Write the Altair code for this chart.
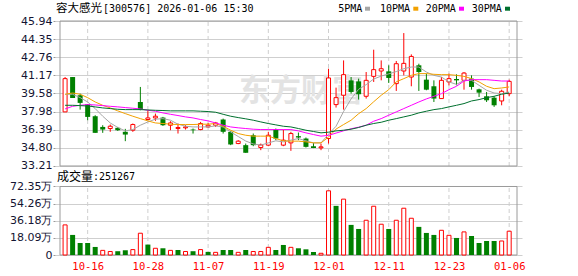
import altair as alt
import pandas as pd

# ---------------- data ----------------
dates = ['10-13', '10-14', '10-15', '10-16', '10-17', '10-20', '10-21', '10-22', '10-23', '10-24',
         '10-27', '10-28', '10-29', '10-30', '10-31', '11-03', '11-04', '11-05', '11-06', '11-07',
         '11-10', '11-11', '11-12', '11-13', '11-14', '11-17', '11-18', '11-19', '11-20', '11-21',
         '11-24', '11-25', '11-26', '11-27', '11-28', '12-01', '12-02', '12-03', '12-04', '12-05',
         '12-08', '12-09', '12-10', '12-11', '12-12', '12-15', '12-16', '12-17', '12-18', '12-19',
         '12-22', '12-23', '12-24', '12-25', '12-26', '12-29', '12-30', '12-31', '01-05', '01-06']
tick_dates = ['10-16', '10-28', '11-07', '11-19', '12-01', '12-11', '12-23', '01-06']

opens = [37.96, 41.02, 39.42, 38.63, 37.58, 36.64, 36.50, 36.56, 36.21, 36.35,
         38.83, 37.29, 37.43, 37.46, 36.79, 36.50, 36.56, 36.41, 36.41, 36.64,
         36.79, 37.29, 36.21, 35.18, 35.04, 35.91, 34.83, 35.04, 36.41, 35.04,
         35.24, 35.83, 35.62, 34.95, 34.80, 35.62, 38.60, 39.42, 40.73, 40.64,
         39.33, 41.08, 41.55, 41.52, 40.44, 41.55, 41.02, 42.05, 40.79, 40.21,
         39.13, 40.59, 40.85, 40.73, 40.88, 39.94, 39.33, 39.21, 38.92, 39.56]
highs = [41.02, 41.02, 39.56, 38.63, 37.67, 36.79, 36.85, 36.64, 36.47, 36.94,
         40.15, 38.10, 37.81, 37.52, 37.14, 36.94, 36.79, 36.50, 37.08, 36.99,
         37.08, 37.37, 36.29, 35.48, 35.18, 36.06, 35.18, 36.21, 36.50, 36.41,
         36.21, 36.15, 35.71, 35.24, 35.18, 41.75, 40.09, 42.48, 41.02, 40.88,
         41.46, 43.42, 42.48, 42.05, 42.43, 44.88, 43.01, 42.19, 41.32, 40.73,
         41.02, 41.32, 41.26, 41.46, 41.17, 40.00, 39.71, 39.33, 39.91, 40.79]
lows = [37.96, 39.18, 38.16, 37.23, 36.12, 36.12, 36.21, 36.29, 35.39, 36.21,
        38.10, 37.23, 37.17, 36.73, 36.35, 36.06, 36.41, 36.06, 36.35, 36.59,
        36.64, 36.06, 35.04, 35.13, 34.37, 34.95, 34.60, 34.95, 35.48, 34.95,
        34.54, 35.48, 34.83, 34.78, 34.60, 35.18, 38.34, 38.16, 39.56, 39.04,
        39.13, 40.59, 40.73, 40.50, 39.80, 41.17, 40.21, 39.80, 39.86, 38.83,
        39.13, 40.29, 40.29, 39.91, 39.91, 39.27, 38.83, 38.40, 38.54, 39.33]
closes = [40.88, 39.18, 38.75, 37.52, 36.12, 36.41, 36.70, 36.35, 35.97, 36.85,
          38.16, 37.43, 37.58, 36.79, 36.99, 36.59, 36.64, 36.35, 36.94, 36.79,
          36.99, 36.21, 35.10, 35.39, 34.37, 35.04, 35.06, 35.91, 35.62, 35.48,
          36.06, 35.71, 34.89, 34.78, 34.89, 40.94, 39.21, 41.23, 39.71, 39.51,
          40.73, 41.67, 41.75, 40.94, 42.19, 42.22, 42.83, 41.46, 39.91, 39.13,
          40.73, 40.88, 40.73, 41.37, 40.15, 39.65, 38.98, 38.54, 39.77, 40.64]

# volume in 万 (10k shares)
volumes = [31.8, 21.2, 12.7, 12.7, 8.5, 4.9, 3.7, 4.0, 5.0, 5.7,
           23.0, 11.0, 7.1, 7.1, 4.9, 5.3, 3.7, 4.0, 5.7, 3.3,
           2.8, 5.3, 5.3, 2.8, 5.3, 3.7, 3.7, 8.1, 5.3, 10.6,
           8.1, 7.1, 6.0, 3.2, 1.8, 67.8, 51.9, 59.0, 31.8, 27.5,
           36.7, 51.5, 32.5, 27.5, 36.7, 49.4, 38.8, 29.7, 23.3, 21.2,
           26.1, 20.8, 18.0, 24.4, 20.1, 12.7, 14.8, 14.8, 14.8, 25.13]
# 1 = red (up day), 0 = green (down day) volume bar
vol_up = [1, 0, 0, 0, 0, 1, 1, 0, 0, 1,
          1, 0, 1, 0, 1, 0, 1, 0, 1, 0,
          1, 0, 0, 1, 0, 1, 1, 1, 0, 0,
          1, 0, 0, 0, 1, 1, 0, 1, 0, 0,
          1, 1, 1, 0, 1, 1, 1, 0, 0, 0,
          1, 1, 0, 1, 0, 0, 0, 0, 1, 1]

ma5 = [39.51, 39.51, 39.21, 38.83, 38.25, 37.58, 36.99, 36.59, 36.29, 36.41,
       36.79, 37.08, 37.32, 37.37, 37.23, 36.88, 36.70, 36.64, 36.64, 36.64,
       36.73, 36.64, 36.20, 35.80, 35.40, 35.15, 35.04, 35.24, 35.42, 35.33,
       35.48, 35.62, 35.42, 35.24, 35.24, 36.00, 36.70, 38.00, 39.10, 39.95,
       40.35, 40.85, 41.10, 41.30, 41.50, 41.75, 41.90, 41.90, 41.46, 41.17,
       41.02, 40.59, 40.38, 40.73, 40.73, 40.29, 39.86, 39.62, 39.56, 39.71]
ma10 = [39.51, 39.62, 39.51, 39.21, 38.83, 38.54, 38.31, 38.05, 37.81, 37.58,
        37.37, 37.17, 36.99, 36.94, 36.88, 36.85, 36.85, 36.85, 36.88, 36.88,
        36.94, 36.70, 36.35, 36.06, 35.91, 35.83, 35.83, 35.83, 35.62, 35.42,
        35.39, 35.39, 35.33, 35.24, 35.24, 35.75, 36.45, 36.85, 37.23, 37.80,
        38.25, 38.85, 39.42, 39.91, 40.60, 40.88, 41.17, 41.32, 41.32, 41.26,
        41.23, 41.23, 41.17, 41.08, 40.88, 40.59, 40.21, 40.00, 40.06, 40.15]
ma20 = [38.22, 38.45, 38.54, 38.60, 38.57, 38.51, 38.45, 38.40, 38.34, 38.28,
        38.22, 38.10, 38.02, 37.87, 37.75, 37.64, 37.52, 37.43, 37.29, 37.17,
        36.99, 36.79, 36.64, 36.56, 36.50, 36.44, 36.41, 36.41, 36.41, 36.41,
        36.41, 36.29, 36.12, 35.97, 35.83, 35.90, 36.10, 36.30, 36.48, 36.62,
        36.79, 37.14, 37.37, 37.67, 37.96, 38.25, 38.54, 38.83, 39.10, 39.33,
        39.56, 39.91, 40.21, 40.67, 40.79, 40.79, 40.79, 40.73, 40.67, 40.67]
ma30 = [38.54, 38.54, 38.51, 38.48, 38.40, 38.31, 38.25, 38.19, 38.16, 38.16,
        38.16, 38.13, 38.10, 38.08, 38.05, 38.05, 38.05, 38.05, 38.02, 37.99,
        37.93, 37.75, 37.58, 37.46, 37.35, 37.23, 37.08, 36.94, 36.82, 36.70,
        36.64, 36.50, 36.35, 36.24, 36.12, 36.18, 36.29, 36.35, 36.44, 36.59,
        36.79, 36.94, 37.05, 37.23, 37.37, 37.52, 37.67, 37.87, 38.02, 38.16,
        38.25, 38.40, 38.54, 38.69, 38.92, 39.04, 39.21, 39.33, 39.51, 39.62]

price_ticks = [33.21, 34.80, 36.39, 37.98, 39.58, 41.17, 42.76, 44.35, 45.94]
vol_ticks = [0, 18.09, 36.18, 54.26, 72.35]
vol_tick_labels = ['0', '18.09万', '36.18万', '54.26万', '72.35万']

title_name = '容大感光'
title_rest = '[300576] 2026-01-06 15:30'
vol_name = '成交量'
vol_rest = ':251267'
watermark = '东方财富'
legend_names = ['5PMA', '10PMA', '20PMA', '30PMA']
legend_colors = ['#a6a6a6', '#f2a100', '#ff00ff', '#00702e']

# ---------------- layout / style ----------------
PLOT_W, PLOT_H = 467, 234
X_DOMAIN = [-0.676, 60.04]
PRICE_DOMAIN = [25.396, 45.94]
VOL_DOMAIN = [0, 247.15]
RED, GREEN = '#ff0000', '#008000'
GRID = '#cfcfcf'
FRAME = '#9a9a9a'
LABEL = '#141432'
MONO = 'DejaVu Sans Mono'
CJK = 'Noto Sans CJK SC'

n = len(dates)
df = pd.DataFrame({
    'i': list(range(n)), 'open': opens, 'high': highs, 'low': lows, 'close': closes,
    'vol': volumes, 'vup': vol_up, 'ma5': ma5, 'ma10': ma10, 'ma20': ma20, 'ma30': ma30,
})
df['up'] = (df['close'] > df['open']).astype(int)

tick_idx = [dates.index(d) for d in tick_dates]
label_expr = '[' + ','.join("'%s'" % d for d in dates) + '][datum.value]'

x_axis = alt.Axis(values=tick_idx, labelExpr=label_expr, grid=False, domain=False, ticks=False,
                  labelColor=RED, labelFont=MONO, labelFontSize=10.5, labelPadding=11,
                  labelBaseline='middle', labelFlush=False, labelOverlap=False, title=None)


def xenc(field='i'):
    return alt.X(f'{field}:Q', scale=alt.Scale(domain=X_DOMAIN, nice=False, zero=False), axis=x_axis)


price_axis = alt.Axis(values=price_ticks, format='.2f', orient='left', grid=True, gridColor=GRID,
                      domain=False, tickSize=2, tickColor=FRAME, labelPadding=1, labelFont='DejaVu Sans',
                      labelFontSize=11, labelColor=LABEL, labelOverlap=False, labelFlush=False, title=None)
vol_expr = ' : '.join("datum.value == %s ? '%s'" % (v, l) for v, l in zip(vol_ticks, vol_tick_labels)) + " : ''"
vol_axis = alt.Axis(values=vol_ticks, labelExpr=vol_expr, orient='left', grid=True, gridColor=GRID,
                    domain=False, tickSize=2, tickColor=FRAME, labelPadding=1, labelFont='DejaVu Sans',
                    labelFontSize=11, labelColor=LABEL, labelOverlap=False, labelFlush=False, title=None)


def py(field):
    return alt.Y(f'{field}:Q', scale=alt.Scale(domain=PRICE_DOMAIN, nice=False, zero=False), axis=price_axis)


def vy(field):
    return alt.Y(f'{field}:Q', scale=alt.Scale(domain=VOL_DOMAIN, nice=False, zero=False), axis=vol_axis)


def text(txt, x, y, font, size, color='#000000', weight='normal'):
    return alt.Chart(pd.DataFrame({'t': [txt]})).mark_text(
        align='left', baseline='middle', font=font, fontSize=size, color=color, fontWeight=weight
    ).encode(text='t:N', x=alt.value(x), y=alt.value(y))


def square(x, y, w, h, color):
    return alt.Chart(pd.DataFrame({'a': [0]})).mark_rect(color=color).encode(
        x=alt.value(x), x2=alt.value(x + w), y=alt.value(y), y2=alt.value(y + h))


base = alt.Chart(df)

# ---- price panel ----
wm = text(watermark, 184, 71, CJK, 31, '#e3e3e3', 'bold')
vgrid_p = alt.Chart(pd.DataFrame({'i': tick_idx, 'lo': price_ticks[0], 'hi': price_ticks[-1]})).mark_rule(
    color=GRID, strokeDash=[4, 3], strokeWidth=1).encode(x=xenc(), y=py('lo'), y2='hi:Q')
frame_p = alt.Chart(pd.DataFrame({'x0': [X_DOMAIN[0]], 'x1': [X_DOMAIN[1]],
                                  'lo': [price_ticks[0]], 'hi': [price_ticks[-1]]})).mark_rect(
    fillOpacity=0, stroke=FRAME, strokeWidth=1).encode(x=xenc('x0'), x2='x1:Q', y=py('lo'), y2='hi:Q')
wick = base.mark_rule(strokeWidth=1).encode(
    x=xenc(), y=py('low'), y2='high:Q',
    color=alt.condition('datum.up == 1', alt.value(RED), alt.value(GREEN)))
body_g = base.transform_filter('datum.up == 0').mark_bar(size=5, color=GREEN).encode(
    x=xenc(), y=py('open'), y2='close:Q')
body_r = base.transform_filter('datum.up == 1').mark_bar(size=4, fill='white', stroke=RED, strokeWidth=1).encode(
    x=xenc(), y=py('open'), y2='close:Q')
ma_layers = [base.mark_line(color=c, strokeWidth=1).encode(x=xenc(), y=py(f))
             for f, c in zip(['ma5', 'ma10', 'ma20', 'ma30'], legend_colors)]

header = [text(title_name, 1, -12.5, CJK, 11.5), text(title_rest, 48, -12.5, MONO, 10)]
leg_text_x = [283.3, 325, 370.7, 416.7]
leg_sq_x = [310, 358.3, 404, 450]
for name, col, tx, sx in zip(legend_names, legend_colors, leg_text_x, leg_sq_x):
    header.append(text(name, tx, -12.5, MONO, 10))
    header.append(square(sx, -14.3, 5, 4, col))

price = alt.layer(wm, vgrid_p, frame_p, wick, body_g, body_r, *ma_layers, *header)

# ---- volume panel ----
vgrid_v = alt.Chart(pd.DataFrame({'i': tick_idx, 'lo': vol_ticks[0], 'hi': vol_ticks[-1]})).mark_rule(
    color=GRID, strokeDash=[4, 3], strokeWidth=1).encode(x=xenc(), y=vy('lo'), y2='hi:Q')
frame_v = alt.Chart(pd.DataFrame({'x0': [X_DOMAIN[0]], 'x1': [X_DOMAIN[1]],
                                  'lo': [vol_ticks[0]], 'hi': [vol_ticks[-1]]})).mark_rect(
    fillOpacity=0, stroke=FRAME, strokeWidth=1).encode(x=xenc('x0'), x2='x1:Q', y=vy('lo'), y2='hi:Q')
vol_g = base.transform_filter('datum.vup == 0').mark_bar(size=5, color=GREEN).encode(x=xenc(), y=vy('vol'))
vol_r = base.transform_filter('datum.vup == 1').mark_bar(size=4, fill='white', stroke=RED, strokeWidth=1).encode(
    x=xenc(), y=vy('vol'))
vol_head = [text(vol_name, 2, 156, CJK, 12), text(vol_rest, 38, 156, MONO, 10)]

volume = alt.layer(vgrid_v, frame_v, vol_g, vol_r, *vol_head)

chart = alt.layer(price, volume).resolve_scale(y='independent').properties(
    width=PLOT_W, height=PLOT_H,
    autosize=alt.AutoSizeParams(type='none'),
    padding={'left': 55, 'top': 21, 'right': 56, 'bottom': 21},
    background='white',
).configure_view(strokeWidth=0)

chart.save('out.html', embed_options={'renderer': 'svg', 'actions': False})
